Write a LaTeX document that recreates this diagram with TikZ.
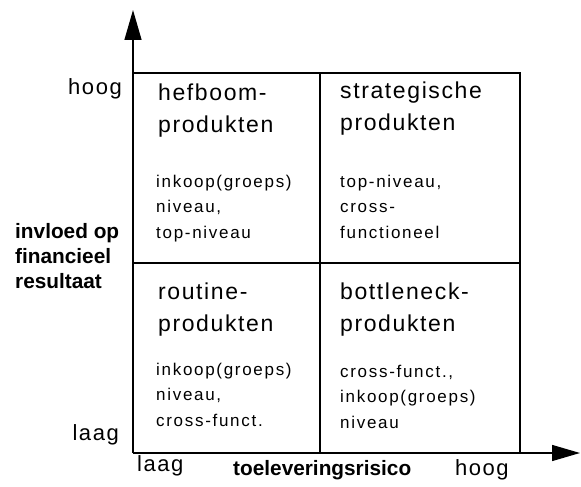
\documentclass[tikz,border=0pt]{standalone}
\usepackage{fontspec}
\setmainfont{Liberation Sans}
\newfontfamily\bigf[LetterSpace=7]{Liberation Sans}
\newfontfamily\smf[LetterSpace=10]{Liberation Sans}
\usetikzlibrary{arrows.meta}
\tikzset{
  gridline/.style={line width=1.4pt, black},
  axisline/.style={line width=1.4pt, black},
  titletext/.style={anchor=base west, align=left, inner sep=0pt, font=\bigf\fontsize{23}{32}\selectfont},
  desctext/.style={anchor=base west, align=left, inner sep=0pt, font=\smf\fontsize{17}{25.5}\selectfont},
  axistext/.style={inner sep=0pt, font=\bigf\fontsize{22}{26}\selectfont},
  boldtext/.style={inner sep=0pt, align=left, font=\bfseries\fontsize{20.8}{25}\selectfont},
}
\begin{document}
\begin{tikzpicture}[x=1pt,y=-1pt]
\useasboundingbox (0,0) rectangle (581,487);
% key coordinates
\coordinate (o) at (133,453);
\coordinate (tr) at (520,73);
\coordinate (tl) at (133,73);
\coordinate (br) at (520,453);
\coordinate (mt) at (320,73);
\coordinate (mb) at (320,453);
\coordinate (ml) at (133,263);
\coordinate (mr) at (520,263);
\coordinate (ytip) at (133,10);
\coordinate (xtip) at (580,453);
% grid
\draw[gridline] (tl) -- (tr) -- (br);
\draw[gridline] (mt) -- (mb);
\draw[gridline] (ml) -- (mr);
% axes
\draw[axisline, -{Triangle[length=30pt,width=17pt]}] (o) -- (ytip);
\draw[axisline, -{Triangle[length=28pt,width=16pt]}] (o) -- (xtip);
% quadrant titles (anchor = baseline of last line)
\node[titletext] (t1) at (158,132) {hefboom-\\produkten};
\node[titletext] (t2) at (340,130) {strategische\\produkten};
\node[titletext] (t3) at (158,331) {routine-\\produkten};
\node[titletext] (t4) at (340,331) {bottleneck-\\produkten};
% quadrant descriptions
\node[desctext] (d1) at (156,238) {inkoop(groeps)\\niveau,\\top-niveau};
\node[desctext] (d2) at (340,238) {top-niveau,\\cross-\\functioneel};
\node[desctext] (d3) at (156,426) {inkoop(groeps)\\niveau,\\cross-funct.};
\node[desctext] (d4) at (340,428) {cross-funct.,\\inkoop(groeps)\\niveau};
% axis labels
\node[axistext, anchor=base east] (yhigh) at (122,95) {hoog};
\node[axistext, anchor=base east] (ylow) at (119,440) {laag};
\node[axistext, anchor=base west] (xlow) at (137,471) {laag};
\node[axistext, anchor=base west] (xhigh) at (455,475) {hoog};
\node[boldtext, anchor=base west] (ylab) at (15,288) {invloed op\\financieel\\resultaat};
\node[boldtext, anchor=base west] (xlab) at (233,475) {toeleveringsrisico};
\end{tikzpicture}
\end{document}
